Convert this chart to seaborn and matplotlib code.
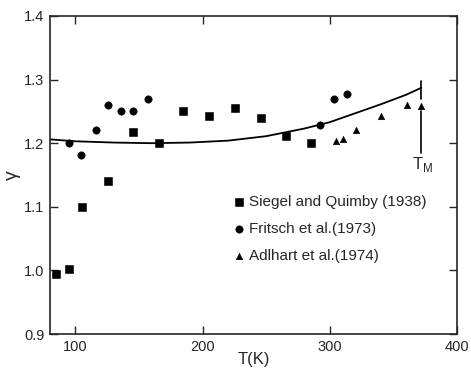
import matplotlib
matplotlib.use("Agg")
import matplotlib.pyplot as plt
import seaborn as sns
import pandas as pd

# Data
sq_T = [84.7, 94.7, 105.3, 125.3, 145.5, 165.8, 185.0, 205.3, 225.5, 245.8, 265.3, 285.5]
sq_g = [0.995, 1.002, 1.100, 1.141, 1.218, 1.200, 1.251, 1.243, 1.255, 1.240, 1.212, 1.200]

ci_T = [94.7, 104.5, 116.0, 125.5, 135.8, 145.5, 156.8, 292.4, 303.7, 313.7]
ci_g = [1.200, 1.181, 1.220, 1.260, 1.250, 1.250, 1.270, 1.229, 1.269, 1.278]

tr_T = [305.3, 310.5, 320.8, 340.5, 360.5, 371.8]
tr_g = [1.203, 1.207, 1.221, 1.242, 1.260, 1.258]

curve_T = [80, 100, 130, 160, 190, 220, 250, 280, 300, 320, 340, 360, 372]
curve_g = [1.206, 1.203, 1.201, 1.200, 1.201, 1.204, 1.211, 1.223, 1.233, 1.247, 1.261, 1.276, 1.287]

labels = ["Siegel and Quimby (1938)", "Fritsch et al.(1973)", "Adlhart et al.(1974)"]
T_melt = 372

sns.set_theme(style="ticks")
plt.rcParams['font.family'] = ['Liberation Sans', 'DejaVu Sans']

fig = plt.figure(figsize=(4.71, 3.70), dpi=100)
ax = fig.add_axes([0.106, 0.097, 0.864, 0.860])

sns.lineplot(x=curve_T, y=curve_g, ax=ax, color="black", lw=1.3, sort=True)
sns.scatterplot(x=sq_T, y=sq_g, ax=ax, marker="s", s=26, color="black", edgecolor="black", label=labels[0])
sns.scatterplot(x=ci_T, y=ci_g, ax=ax, marker="o", s=28, color="black", edgecolor="black", label=labels[1])
sns.scatterplot(x=tr_T, y=tr_g, ax=ax, marker="^", s=22, color="black", edgecolor="black", label=labels[2])

# melting point marker
ax.plot([T_melt, T_melt], [1.269, 1.297], color="black", lw=1.2)
ax.plot([T_melt, T_melt], [1.185, 1.250], color="black", lw=1.2)
ax.text(T_melt + 1, 1.166, "T$_\\mathregular{M}$", ha="center", va="center", fontsize=12)

ax.set_xlim(80, 400)
ax.set_ylim(0.9, 1.4)
ax.set_xticks([100, 200, 300, 400])
ax.set_yticks([0.9, 1.0, 1.1, 1.2, 1.3, 1.4])
ax.set_yticklabels(["0.9", "1.0", "1.1", "1.2", "1.3", "1.4"])
ax.tick_params(direction="in", top=True, right=True, length=6, width=1, labelsize=10.5, pad=4)
for sp in ax.spines.values():
    sp.set_linewidth(1.2)
    sp.set_visible(True)
ax.set_xlabel("T(K)", fontsize=12, labelpad=-1)
ax.set_ylabel("γ", fontsize=14, labelpad=2)

leg = ax.legend(loc="upper left", bbox_to_anchor=(0.43, 0.455), frameon=False,
                handletextpad=0.2, handlelength=1.0, labelspacing=0.85, fontsize=11,
                borderaxespad=0)

fig.savefig("out.png", dpi=100)
